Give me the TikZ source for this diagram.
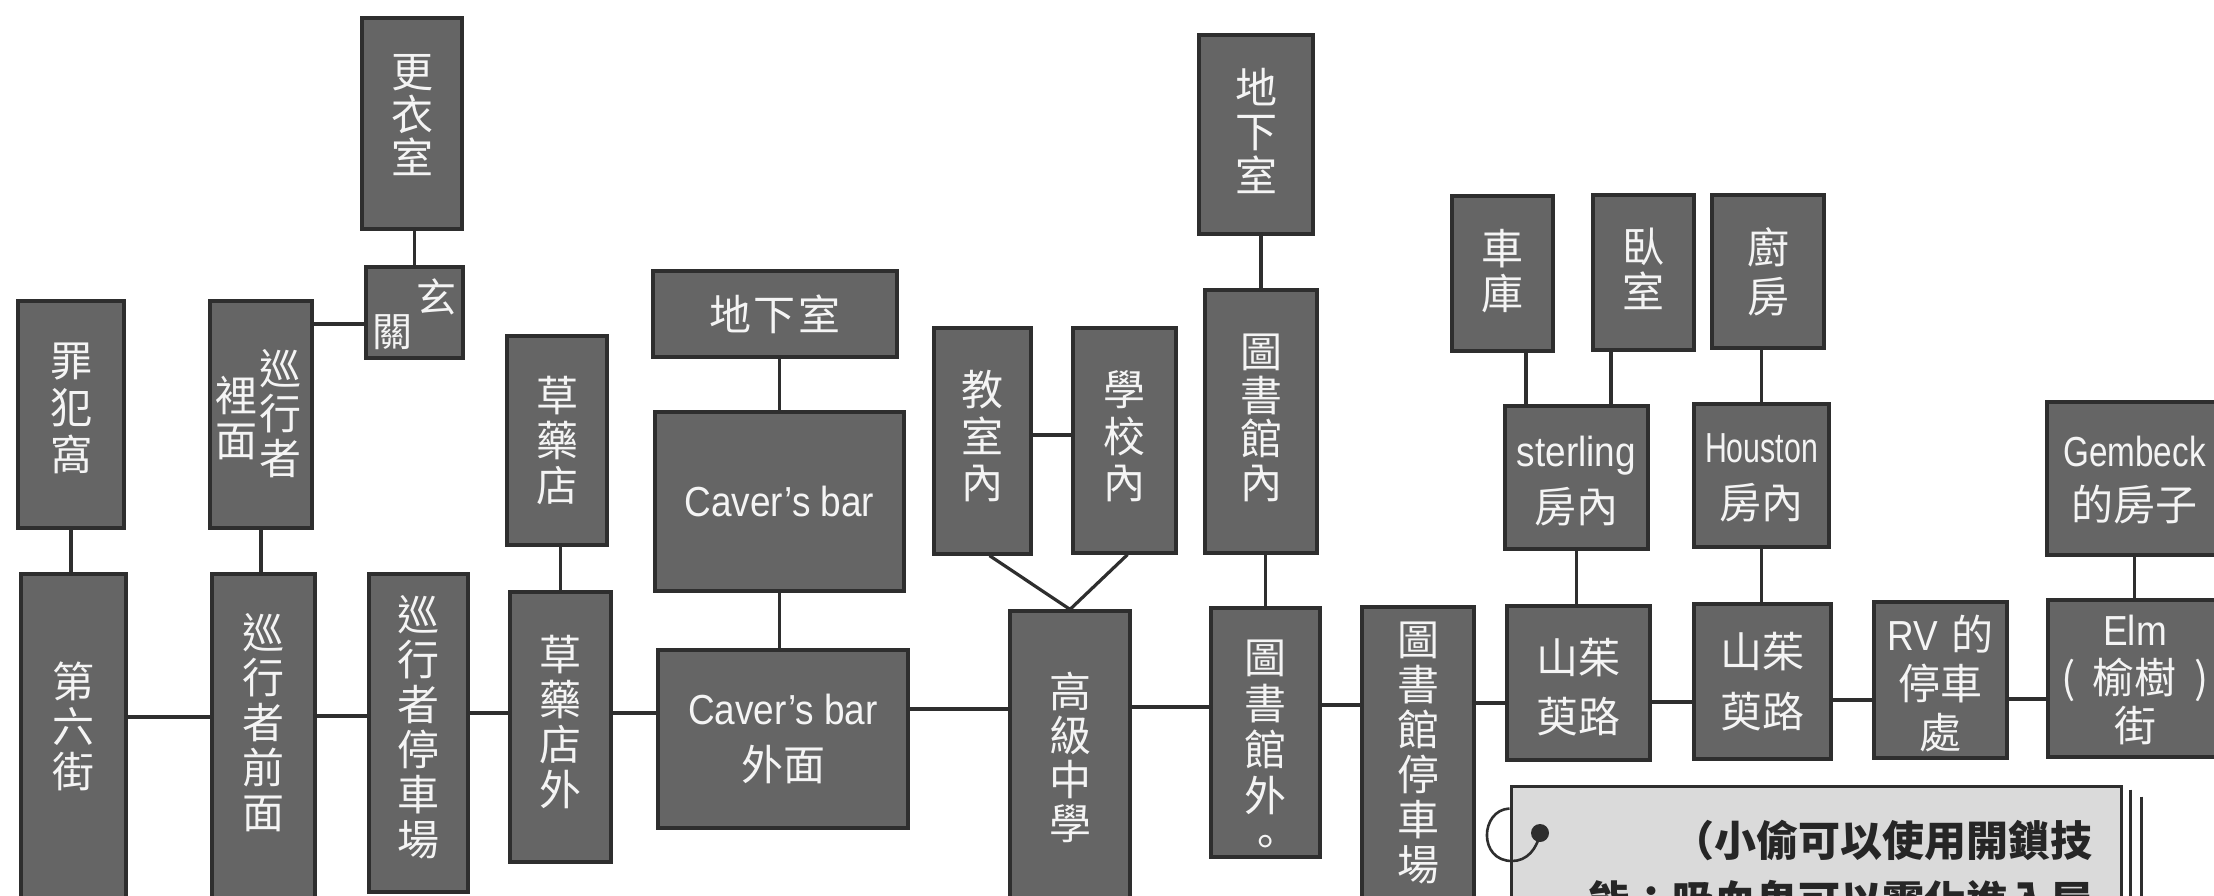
\documentclass[tikz,border=0pt]{standalone}
\usepackage{fontspec}
\usepackage{graphicx}
\newfontfamily\cjk{Noto Sans CJK TC}
\newfontfamily\lat[FakeStretch=0.88]{Liberation Sans}
\definecolor{boxfill}{HTML}{656565}
\definecolor{bord}{HTML}{2E2E2E}
\definecolor{notefill}{HTML}{DADADA}
\definecolor{notetext}{HTML}{262626}
\definecolor{boxtext}{HTML}{F4F4F4}
\tikzset{
  bx/.style={draw=bord, fill=boxfill, line width=3.2pt, inner sep=0pt},
  bxt/.style={text=boxtext, align=center, inner sep=0pt},
  ln/.style={draw=bord, line width=3.2pt},
  notebox/.style={draw=bord, fill=notefill, line width=3pt, inner sep=0pt},
}
% name, x1, y1, x2, y2, raise, line skip, text
\newcommand\mkbox[8]{%
  \node[bx, minimum width={(#4-#2)*1pt}, minimum height={(#5-#3)*1pt},
    label={[bxt,font=\cjk\fontsize{42}{#7}\selectfont,yshift=#6pt]center:#8}] (#1) at ({(#2+#4)/2},{(#3+#5)/2}) {};}
\newcommand\hlink[3]{\draw[ln] (#1.east |- 0,#3) -- (#2.west |- 0,#3);}
\begin{document}
\begin{tikzpicture}[x=1pt,y=-1pt]
\useasboundingbox (0,0) rectangle (2214,895);
\fill[white] (0,0) rectangle (2214,895);
\clip (0,0) rectangle (2214,895);

% ---------- boxes ----------
\mkbox{den}{18}{301}{124}{528}{6.5}{47}{罪\\犯\\窩}
\mkbox{sixth}{21}{574}{126}{906}{14}{45}{第\\六\\街}
\node[bx, minimum width=102pt, minimum height=227pt,
  label={[bxt,font=\cjk\fontsize{42}{45}\selectfont,xshift=-24.5pt,yshift=-3.5pt]center:裡\\面},
  label={[bxt,font=\cjk\fontsize{42}{45}\selectfont,xshift=19pt,yshift=0.5pt]center:巡\\行\\者}] (inside) at (261,414.5) {};
\node[bx, minimum width=97pt, minimum height=91pt,
  label={[bxt,font=\cjk\fontsize{40}{40}\selectfont,xshift=21.5pt,yshift=16pt]center:玄},
  label={[bxt,font=\cjk\fontsize{40}{40}\selectfont,xshift=-22.5pt,yshift=-19.5pt]center:關}] (hall) at (414.5,312.5) {};
\mkbox{locker}{362}{18}{462}{229}{8}{43}{更\\衣\\室}
\mkbox{front}{212}{574}{315}{906}{17.5}{45}{巡\\行\\者\\前\\面}
\mkbox{park}{369}{574}{468}{892}{5.5}{45}{巡\\行\\者\\停\\車\\場}
\mkbox{herb}{507}{336}{607}{545}{0}{45}{草\\藥\\店}
\mkbox{herbout}{510}{592}{611}{862}{5.5}{45}{草\\藥\\店\\外}
\mkbox{cbase}{653}{271}{897}{357}{0}{45}{地\hspace{3pt}下\hspace{3pt}室}
\mkbox{cbar}{655}{412}{904}{591}{0}{45}{{\lat Caver’s bar}}
\mkbox{cavout}{658}{650}{908}{828}{0}{56}{{\lat Caver’s bar}\\外面}
\mkbox{class}{934}{328}{1031}{554}{4.5}{46.5}{教\\室\\內}
\mkbox{school}{1073}{328}{1176}{553}{4}{46.5}{學\\校\\內}
\mkbox{high}{1010}{611}{1130}{906}{1}{44}{高\\級\\中\\學}
\mkbox{lbase}{1199}{35}{1313}{234}{3.5}{44}{地\\下\\室}
\mkbox{libin}{1205}{290}{1317}{553}{3.5}{43.5}{圖\\書\\館\\內}
\mkbox{libout}{1211}{608}{1320}{857}{-16}{46}{圖\\書\\館\\外\\。}
\mkbox{libpark}{1362}{607}{1474}{906}{4}{45}{圖\\書\\館\\停\\車\\場}
\mkbox{garage}{1452}{196}{1553}{351}{2.5}{45}{車\\庫}
\mkbox{bed}{1593}{195}{1694}{350}{4}{45}{臥\\室}
\mkbox{kitchen}{1712}{195}{1824}{348}{0}{49}{廚\\房}
\mkbox{ster}{1505}{406}{1648}{549}{-3.5}{56}{{\lat sterling}\\房內}
\mkbox{hous}{1694}{404}{1829}{547}{-2.5}{56}{{\lat\scalebox{0.82}[1]{Houston}}\\房內}
\mkbox{gem}{2047}{402}{2222}{555}{-1.5}{54}{{\lat\scalebox{0.9}[1]{Gembeck}}\\的房子}
\mkbox{dog1}{1507}{606}{1650}{760}{-4}{59}{山茱\\萸路}
\mkbox{dog2}{1694}{604}{1831}{759}{0}{60}{山茱\\萸路}
\mkbox{rv}{1874}{602}{2007}{758}{-3.5}{49}{{\lat RV}\hspace{14pt}的\\停車\\處}
\mkbox{elm}{2048}{600}{2222}{757}{-1}{48}{{\lat Elm}\\(\hspace{17pt}榆樹\hspace{17pt})\\街}

% ---------- vertical / branch connectors ----------
\draw[ln] (den.south) -- (den.south |- sixth.north);
\draw[ln] (inside.south) -- (inside.south |- front.north);
\draw[ln] (hall.north) -- (hall.north |- locker.south);
\coordinate (hj) at ([yshift=-11.5pt]hall.west);
\draw[ln] (hj) -- (hj -| inside.east);
\draw[ln] (herbout.north) -- (herbout.north |- herb.south);
\draw[ln] (cbar.north) -- (cbar.north |- cbase.south);
\draw[ln] (cbar.south) -- (cbar.south |- cavout.north);
\draw[ln] (class.east |- 0,435) -- (school.west |- 0,435);
\draw[ln] ([xshift=7pt]class.south) -- (high.north) -- ([xshift=3pt]school.south);
\draw[ln] (libin.north) -- (libin.north |- lbase.south);
\draw[ln] (libout.north) -- (libout.north |- libin.south);
\coordinate (gj) at ([xshift=23.5pt]garage.south);
\draw[ln] (gj) -- (gj |- ster.north);
\coordinate (bj) at ([xshift=-32.5pt]bed.south);
\draw[ln] (bj) -- (bj |- ster.north);
\draw[ln] (hous.north) -- (hous.north |- kitchen.south);
\draw[ln] (ster.south) -- (ster.south |- dog1.north);
\draw[ln] (hous.south) -- (hous.south |- dog2.north);
\draw[ln] (gem.south) -- (gem.south |- elm.north);

% ---------- main street ----------
\hlink{sixth}{front}{717}
\hlink{front}{park}{716}
\hlink{park}{herbout}{713}
\hlink{herbout}{cavout}{713}
\hlink{cavout}{high}{709}
\hlink{high}{libout}{707}
\hlink{libout}{libpark}{705}
\hlink{libpark}{dog1}{703}
\hlink{dog1}{dog2}{702}
\hlink{dog2}{rv}{700}
\hlink{rv}{elm}{699}

% ---------- note card ----------
\node[notebox, minimum width=610pt, minimum height=130pt] (note) at (1816,851) {};
\coordinate (p1) at ([xshift=8pt,yshift=-5pt]note.north east);
\draw[bord, line width=2.4pt] (p1) -- (p1 |- note.south);
\coordinate (p2) at ([xshift=19pt,yshift=-12pt]note.north east);
\draw[bord, line width=2.4pt] (p2) -- (p2 |- note.south);
\coordinate (r0) at ([yshift=-24pt]note.north west);
\coordinate (dot) at (1540,833);
\draw[bord, line width=2.6pt] (r0) .. controls (1480,810) and (1478,861) .. (1512,861)
  .. controls (1527,861) and (1537,849) .. (dot);
\fill[bord] (dot) circle (9pt);
\node[anchor=north east, align=right, inner sep=0pt, text=notetext,
  font=\cjk\bfseries\fontsize{42}{60}\selectfont] (notetxt) at (2093,820)
  {（小偷可以使用開鎖技\\能：吸血鬼可以霧化進入屋};
\end{tikzpicture}
\end{document}
